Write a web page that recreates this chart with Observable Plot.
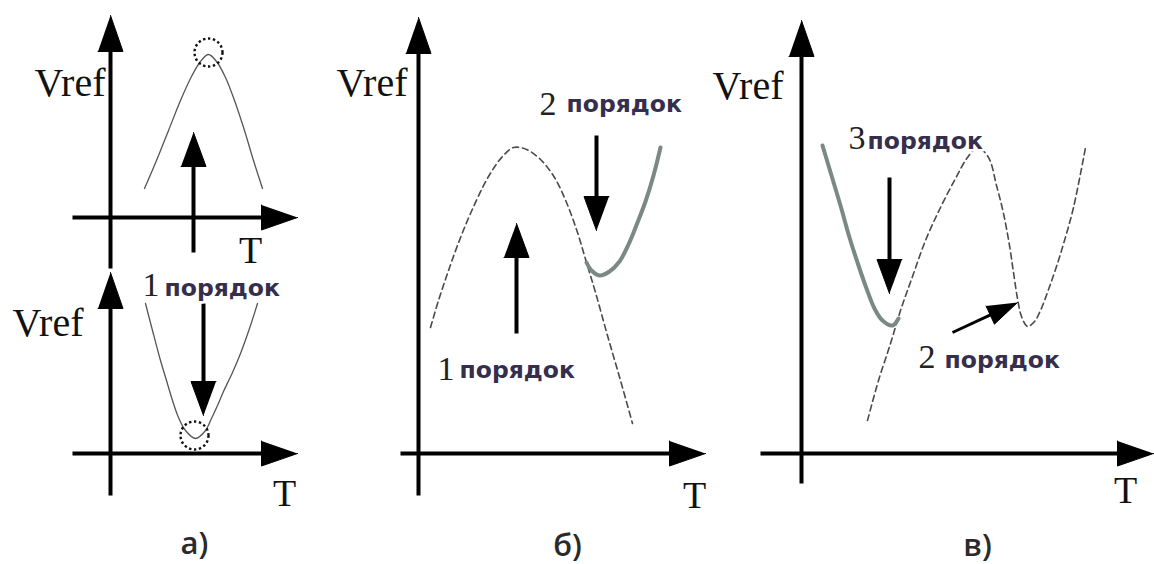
<!DOCTYPE html>
<html>
<head>
<meta charset="utf-8">
<script src="https://cdn.jsdelivr.net/npm/d3@7"></script>
<script src="https://cdn.jsdelivr.net/npm/@observablehq/plot@0.6"></script>
<style>
  html, body { margin: 0; padding: 0; background: #fff; }
  #chart svg { display: block; }
</style>
</head>
<body>
<div id="chart"></div>
<script>
// Figure coordinates: T grows to the right, screen depth grows downward.

// Axis arrows of the four coordinate frames: [fromT, fromV, toT, toV]
const axisArrows = [
  [110, 495, 110, 272], [110, 268, 110, 15],   // а) vertical axes
  [72, 217, 297, 217], [72, 453, 297, 453],    // а) horizontal axes
  [418, 495, 418, 17], [400, 453, 705, 453],   // б)
  [801, 483, 801, 20], [760, 453, 1153, 453]   // в)
];

// Pointer arrows marking the order shift
const pointerArrows = [
  [193, 252, 193, 132],   // а) up
  [203, 303, 203, 415],   // а) down
  [516, 333, 516, 223],   // б) up
  [596, 135, 596, 230],   // б) down
  [889, 177, 889, 293]    // в) down
];
const slantArrows = [
  [952, 332, 1017, 302]   // в) towards second-order dip
];

// а) first-order hump (top) and dip (bottom)
const humpA = [[144,188],[156,160],[168,130],[180,100],[191,76],[200,61],[208,54],[216,61],[225,77],[234,100],[244,130],[253,160],[262,188]];
const dipA = [[145,303],[152,330],[160,360],[166,380],[172,400],[178,417],[185,430],[195,438],[205,430],[211,418],[217,405],[223,391],[232,372],[240,353],[249,328],[257,303]];
// Extremum markers of а)
const extremaA = [[208, 52], [194, 435]];

// б) first-order curve (dashed) and second-order branch (solid)
const firstB = [[430,327],[438,300],[447,273],[457,245],[470,213],[488,176],[502,156],[513,147],[526,149],[540,159],[554,177],[566,202],[577,232],[586,262],[595,292],[607,335],[620,380],[632,423]];
const secondB = [[586,262],[591,270],[599,275],[609,271],[619,261],[628,244],[637,222],[645,201],[653,175],[660,147]];

// в) second-order curve (dashed) and third-order branch (solid)
const secondC = [[867,420],[878,380],[890,343],[900,310],[912,276],[925,240],[940,207],[955,178],[967,157],[977,147],[988,157],[996,185],[1003,213],[1009,245],[1013,272],[1017,298],[1021,316],[1027,326],[1034,321],[1040,310],[1048,289],[1056,266],[1064,240],[1073,207],[1085,147]];
const thirdC = [[822,145],[831,175],[840,205],[849,237],[858,265],[866,288],[874,308],[882,320],[892,325],[898,318]];

// Labels
const vrefLabels = [[105, 95], [83, 335], [407, 95], [783, 98]];
const tLabels = [[250, 262], [284, 505], [694, 507], [1125, 502]];
const orderDigits = [[159, 295, "1"], [556, 114, "2"], [454, 379, "1"], [865, 148, "3"], [935, 367, "2"]];
const orderWords = [[164, 295, "порядок"], [566, 111, "порядок"], [459, 377, "порядок"], [867, 148, "порядок"], [944, 367, "порядок"]];
const panelLabels = [[194, 553, "а)"], [567, 555, "б)"], [977, 555, "в)"]];

// ---- derived geometry ----
const toPoints = (arr, id) => arr.map(([x, y]) => ({x, y, id}));

function arrowParts(list, headLen, headHalf, prefix) {
  const shafts = [], heads = [];
  list.forEach(([x1, y1, x2, y2], i) => {
    const dx = x2 - x1, dy = y2 - y1, len = Math.hypot(dx, dy);
    const ux = dx / len, uy = dy / len, nx = -uy, ny = ux;
    const bx = x2 - ux * headLen, by = y2 - uy * headLen;
    shafts.push({x1, y1, x2: bx + ux * 2, y2: by + uy * 2});
    const id = prefix + i;
    heads.push({x: x2, y: y2, id},
               {x: bx + nx * headHalf, y: by + ny * headHalf, id},
               {x: bx - nx * headHalf, y: by - ny * headHalf, id});
  });
  return {shafts, heads};
}

const axisParts = arrowParts(axisArrows, 36, 12.5, "ax");
const pointerParts = arrowParts(pointerArrows, 34, 12.5, "pt");
const slantParts = arrowParts(slantArrows, 30, 10, "sl");

const serif = "'Liberation Serif', 'Times New Roman', serif";
const sans = "'DejaVu Sans', Verdana, sans-serif";
const wordColor = "#352f4d";

const chart = Plot.plot({
  width: 1154,
  height: 564,
  margin: 0,
  x: {domain: [0, 1154], range: [0, 1154], axis: null},
  y: {domain: [0, 564], range: [0, 564], axis: null},
  style: {background: "#fff"},
  marks: [
    // curves
    Plot.line(toPoints(humpA, "h"), {x: "x", y: "y", stroke: "#555", strokeWidth: 1.3, curve: "catmull-rom"}),
    Plot.line(toPoints(dipA, "d"), {x: "x", y: "y", stroke: "#555", strokeWidth: 1.3, curve: "catmull-rom"}),
    Plot.line(toPoints(firstB, "fb"), {x: "x", y: "y", stroke: "#4a4a4a", strokeWidth: 1.6, strokeDasharray: "6,4", curve: "catmull-rom"}),
    Plot.line(toPoints(secondC, "sc"), {x: "x", y: "y", stroke: "#4a4a4a", strokeWidth: 1.6, strokeDasharray: "6,4", curve: "catmull-rom"}),
    Plot.line(toPoints(secondB, "sb"), {x: "x", y: "y", stroke: "#7a8985", strokeWidth: 4, curve: "catmull-rom"}),
    Plot.line(toPoints(thirdC, "tc"), {x: "x", y: "y", stroke: "#7a8985", strokeWidth: 4, curve: "catmull-rom"}),
    // extremum markers
    Plot.dot(extremaA, {x: d => d[0], y: d => d[1], r: 14, stroke: "#111", strokeWidth: 2.4, strokeDasharray: "2.4,2.6", fill: "none"}),
    // axes
    Plot.link(axisParts.shafts, {x1: "x1", y1: "y1", x2: "x2", y2: "y2", stroke: "#000", strokeWidth: 4}),
    Plot.line(axisParts.heads, {x: "x", y: "y", z: "id", fill: "#000", stroke: "#000", strokeWidth: 1}),
    // pointer arrows
    Plot.link(pointerParts.shafts, {x1: "x1", y1: "y1", x2: "x2", y2: "y2", stroke: "#000", strokeWidth: 4}),
    Plot.line(pointerParts.heads, {x: "x", y: "y", z: "id", fill: "#000", stroke: "#000", strokeWidth: 1}),
    Plot.link(slantParts.shafts, {x1: "x1", y1: "y1", x2: "x2", y2: "y2", stroke: "#000", strokeWidth: 3}),
    Plot.line(slantParts.heads, {x: "x", y: "y", z: "id", fill: "#000", stroke: "#000", strokeWidth: 1}),
    // axis titles
    Plot.text(vrefLabels, {x: d => d[0], y: d => d[1], text: () => "Vref", textAnchor: "end", lineAnchor: "bottom", fontFamily: serif, fontSize: 40, fill: "#111"}),
    Plot.text(tLabels, {x: d => d[0], y: d => d[1], text: () => "T", textAnchor: "middle", lineAnchor: "bottom", fontFamily: serif, fontSize: 38, fill: "#111"}),
    // order annotations
    Plot.text(orderDigits, {x: d => d[0], y: d => d[1], text: d => d[2], textAnchor: "end", lineAnchor: "bottom", fontFamily: serif, fontSize: 34, fill: "#222", stroke: "#fff", strokeWidth: 5}),
    Plot.text(orderWords, {x: d => d[0], y: d => d[1], text: d => d[2], textAnchor: "start", lineAnchor: "bottom", fontFamily: sans, fontWeight: "bold", fontSize: 23.5, fill: wordColor, stroke: "#fff", strokeWidth: 5}),
    // panel captions
    Plot.text(panelLabels, {x: d => d[0], y: d => d[1], text: d => d[2], textAnchor: "middle", lineAnchor: "bottom", fontFamily: "'Open Sans', 'DejaVu Sans', sans-serif", fontWeight: 600, fontSize: 31, fill: "#2a2a2a"})
  ]
});

document.getElementById("chart").append(chart);
</script>
</body>
</html>
